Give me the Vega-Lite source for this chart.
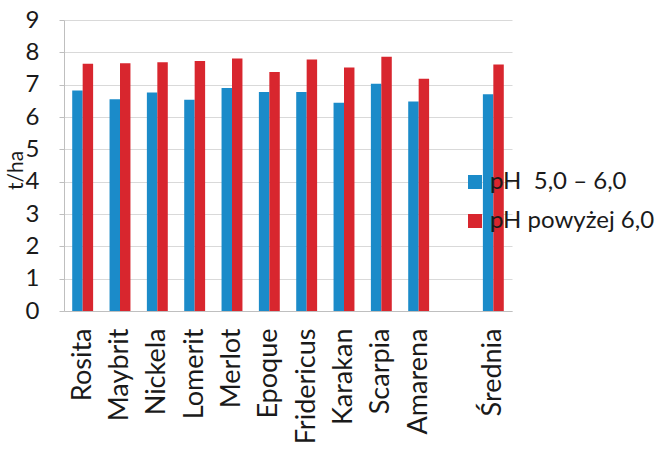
{
  "$schema": "https://vega.github.io/schema/vega-lite/v6.json",
  "width": 448,
  "height": 291,
  "autosize": {"type": "none"},
  "padding": {"left": 64, "top": 20, "right": 146, "bottom": 141},
  "background": "white",
  "config": {
    "font": "Lato",
    "view": {"stroke": null}
  },
  "data": {
    "values": [
      {"odmiana": "Rosita", "grupa": "pH\u00a0 5,0 – 6,0", "plon": 6.82},
      {"odmiana": "Rosita", "grupa": "pH powyżej 6,0", "plon": 7.65},
      {"odmiana": "Maybrit", "grupa": "pH\u00a0 5,0 – 6,0", "plon": 6.55},
      {"odmiana": "Maybrit", "grupa": "pH powyżej 6,0", "plon": 7.66},
      {"odmiana": "Nickela", "grupa": "pH\u00a0 5,0 – 6,0", "plon": 6.76},
      {"odmiana": "Nickela", "grupa": "pH powyżej 6,0", "plon": 7.69},
      {"odmiana": "Lomerit", "grupa": "pH\u00a0 5,0 – 6,0", "plon": 6.53},
      {"odmiana": "Lomerit", "grupa": "pH powyżej 6,0", "plon": 7.73},
      {"odmiana": "Merlot", "grupa": "pH\u00a0 5,0 – 6,0", "plon": 6.9},
      {"odmiana": "Merlot", "grupa": "pH powyżej 6,0", "plon": 7.81},
      {"odmiana": "Epoque", "grupa": "pH\u00a0 5,0 – 6,0", "plon": 6.77},
      {"odmiana": "Epoque", "grupa": "pH powyżej 6,0", "plon": 7.39},
      {"odmiana": "Fridericus", "grupa": "pH\u00a0 5,0 – 6,0", "plon": 6.77},
      {"odmiana": "Fridericus", "grupa": "pH powyżej 6,0", "plon": 7.78},
      {"odmiana": "Karakan", "grupa": "pH\u00a0 5,0 – 6,0", "plon": 6.44},
      {"odmiana": "Karakan", "grupa": "pH powyżej 6,0", "plon": 7.53},
      {"odmiana": "Scarpia", "grupa": "pH\u00a0 5,0 – 6,0", "plon": 7.03},
      {"odmiana": "Scarpia", "grupa": "pH powyżej 6,0", "plon": 7.86},
      {"odmiana": "Amarena", "grupa": "pH\u00a0 5,0 – 6,0", "plon": 6.48},
      {"odmiana": "Amarena", "grupa": "pH powyżej 6,0", "plon": 7.18},
      {"odmiana": "Średnia", "grupa": "pH\u00a0 5,0 – 6,0", "plon": 6.7},
      {"odmiana": "Średnia", "grupa": "pH powyżej 6,0", "plon": 7.62}
    ]
  },
  "mark": {"type": "bar"},
  "encoding": {
    "x": {
      "field": "odmiana",
      "type": "nominal",
      "scale": {
        "domain": ["Rosita", "Maybrit", "Nickela", "Lomerit", "Merlot", "Epoque", "Fridericus", "Karakan", "Scarpia", "Amarena", " ", "Średnia"],
        "paddingInner": 0.44,
        "paddingOuter": 0.22
      },
      "axis": {
        "title": null,
        "labelAngle": -90,
        "labelFontSize": 27,
        "labelColor": "#1a1a1a",
        "labelPadding": 17,
        "labelLimit": 0,
        "ticks": false,
        "tickSize": 0,
        "domainColor": "#bfbfbf",
        "domainWidth": 1,
        "grid": false
      }
    },
    "xOffset": {
      "field": "grupa",
      "type": "nominal",
      "sort": ["pH\u00a0 5,0 – 6,0", "pH powyżej 6,0"]
    },
    "y": {
      "field": "plon",
      "type": "quantitative",
      "scale": {"domain": [0, 9], "nice": false},
      "axis": {
        "title": "t/ha",
        "titleFontSize": 21,
        "titleFontWeight": "normal",
        "titleColor": "#1a1a1a",
        "titleAngle": -90,
        "titleX": -38,
        "titleY": 150,
        "titleAlign": "center",
        "titleBaseline": "bottom",
        "values": [0, 1, 2, 3, 4, 5, 6, 7, 8, 9],
        "labelFontSize": 24,
        "labelColor": "#1a1a1a",
        "labelPadding": 20,
        "tickSize": 5,
        "tickColor": "#bfbfbf",
        "domainColor": "#bfbfbf",
        "gridColor": "#d9d9d9",
        "gridWidth": 1
      }
    },
    "color": {
      "field": "grupa",
      "type": "nominal",
      "scale": {
        "domain": ["pH\u00a0 5,0 – 6,0", "pH powyżej 6,0"],
        "range": ["#1b8bc9", "#d8262e"]
      },
      "legend": {
        "title": null,
        "orient": "none",
        "legendX": 399,
        "legendY": 150,
        "symbolType": "square",
        "symbolSize": 196,
        "symbolStrokeWidth": 0,
        "labelFontSize": 24,
        "labelColor": "#1a1a1a",
        "labelOffset": 3,
        "labelLimit": 0,
        "rowPadding": 15,
        "padding": 0
      }
    }
  }
}
